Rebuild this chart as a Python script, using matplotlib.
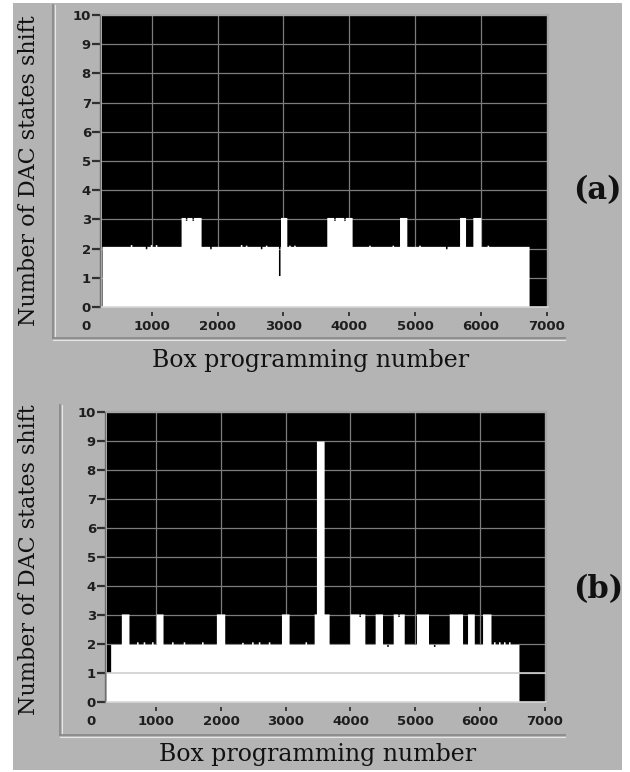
import numpy as np
import matplotlib
matplotlib.use('Agg')
import matplotlib.pyplot as plt
from matplotlib.patches import Rectangle
from matplotlib.lines import Line2D

# ---- panel (a) ----
a_range = (253, 6740)
a_base = 2.06
a_block_start = [1454, 2964, 3667, 4772, 5684, 5886]
a_block_end = [1758, 3060, 4052, 4883, 5775, 6008]
a_block_level = [3.05, 3.05, 3.05, 3.05, 3.05, 3.05]
a_blip_x = [694, 922, 998, 1074, 1530, 1631, 1900, 2366, 2442, 2670, 2746,
            2945, 3100, 3176, 3784, 3936, 4316, 4670, 5076, 5482, 6114]
a_blip_level = [2.12, 1.97, 2.12, 2.12, 2.95, 2.95, 1.97, 2.12, 2.1, 1.97, 2.1,
                1.06, 2.1, 2.1, 2.95, 2.95, 2.1, 2.1, 2.1, 1.97, 2.1]

# ---- panel (b) ----
b_lead = (236, 304, 1.0)
b_range = (304, 6610)
b_base = 1.97
b_block_start = [469, 1009, 1937, 2942, 3447, 3482, 3998, 4389, 4668, 5028,
                 5533, 5816, 6048]
b_block_end = [587, 1113, 2066, 3060, 3678, 3601, 4230, 4503, 4838, 5213,
               5739, 5920, 6178]
b_block_level = [3.02, 3.02, 3.02, 3.02, 3.02, 8.98, 3.02, 3.02, 3.02, 3.02,
                 3.02, 3.02, 3.02]
b_blip_x = [716, 819, 948, 1257, 1437, 1720, 2339, 2493, 2597, 2751, 3318,
            4150, 4580, 4750, 5301, 6229, 6306, 6383, 6461]
b_blip_level = [2.06, 2.06, 2.06, 2.06, 2.06, 2.06, 2.04, 2.06, 2.06, 2.06, 2.06,
                2.93, 1.9, 2.93, 1.9, 2.06, 2.06, 2.06, 2.06]

x_ticks = [1000, 2000, 3000, 4000, 5000, 6000, 7000]
y_ticks = list(range(0, 11))
xlabel = "Box programming number"
ylabel = "Number of DAC states shift"

BLIP_W = 24
W, H = 630, 772


def build_profile(x0, x1, base, starts, ends, levels, blips, blip_levels, lead=None):
    lo = lead[0] if lead else x0
    edges = np.arange(lo, x1 + 1)
    vals = np.full(len(edges) - 1, base, dtype=float)
    if lead:
        vals[edges[:-1] < lead[1]] = lead[2]
    for s, e, v in zip(starts, ends, levels):
        vals[(edges[:-1] >= s) & (edges[:-1] < e)] = v
    for c, v in zip(blips, blip_levels):
        vals[(edges[:-1] >= c - BLIP_W / 2) & (edges[:-1] < c + BLIP_W / 2)] = v
    return edges, vals


def px_rect(l, t, r, b):
    # pixel box -> figure fraction [left, bottom, width, height]
    return [l / W, 1 - b / H, (r - l) / W, (b - t) / H]


def style_axes(ax, xlim):
    ax.set_facecolor('black')
    ax.set_xlim(*xlim)
    ax.set_ylim(0, 10)
    ax.set_xticks(x_ticks)
    ax.set_yticks(y_ticks)
    ax.grid(True, color='#7c7c7c', lw=0.9)
    ax.set_axisbelow(True)
    for s in ['top', 'right']:
        ax.spines[s].set_color('#a6a6a6')
        ax.spines[s].set_linewidth(1.6)
    ax.spines['bottom'].set_position(('outward', 3.6))
    ax.spines['bottom'].set_visible(False)
    ax.spines['left'].set_position(('outward', 1.5))
    ax.spines['left'].set_color('#6e6e6e')
    ax.spines['left'].set_linewidth(1.0)
    ax.plot([0, 1], [0, 0], transform=ax.transAxes, color='#d8d8d8',
            lw=1.2, clip_on=False, zorder=5)
    ax.tick_params(axis='x', direction='out', length=3, width=1.3,
                   color='#303030', pad=3)
    ax.tick_params(axis='y', direction='out', length=5.5, width=1.6,
                   color='#303030', pad=1)
    for lab in ax.get_xticklabels() + ax.get_yticklabels():
        lab.set_fontsize(9.5)
        lab.set_fontweight('bold')
        lab.set_color('#1e1e1e')
    ax.text(0, -0.068, "0", transform=ax.get_xaxis_transform(), ha='center',
            va='center', fontsize=9.5, fontweight='bold', color='#1e1e1e',
            clip_on=False)


fig = plt.figure(figsize=(6.3, 7.72), dpi=100)
fig.patch.set_facecolor('white')
fig.patches.append(Rectangle((13 / W, 1 - 770 / H), 609 / W, 767 / H,
                             transform=fig.transFigure, facecolor='#b4b4b4',
                             edgecolor='none', zorder=-5))

# panel frames (sunken edge look)
for (xv, yt, yb, yh, xr) in [(53, 5, 338, 338, 565), (60, 405, 735, 735, 565)]:
    fig.add_artist(Line2D([xv / W, xv / W], [1 - yt / H, 1 - yb / H],
                          color='#8a8a8a', lw=1.3, zorder=-4))
    fig.add_artist(Line2D([(xv + 1.5) / W, (xv + 1.5) / W], [1 - yt / H, 1 - yb / H],
                          color='#e6e6e6', lw=0.8, zorder=-4))
    fig.add_artist(Line2D([xv / W, xr / W], [1 - yh / H, 1 - yh / H],
                          color='#8a8a8a', lw=1.3, zorder=-4))
    fig.add_artist(Line2D([xv / W, xr / W], [1 - (yh + 1.5) / H, 1 - (yh + 1.5) / H],
                          color='#e6e6e6', lw=0.8, zorder=-4))

# top panel
ax1 = fig.add_axes(px_rect(102, 15, 548, 307))
edges, vals = build_profile(a_range[0], a_range[1], a_base, a_block_start,
                            a_block_end, a_block_level, a_blip_x, a_blip_level)
ax1.stairs(vals, edges, baseline=0, fill=True, color='white', lw=0, zorder=3)
style_axes(ax1, (245, 7020))

# bottom panel
ax2 = fig.add_axes(px_rect(107, 412, 546, 702))
edges, vals = build_profile(b_range[0], b_range[1], b_base, b_block_start,
                            b_block_end, b_block_level, b_blip_x, b_blip_level,
                            lead=b_lead)
ax2.stairs(vals, edges, baseline=0, fill=True, color='white', lw=0, zorder=3)
ax2.axhline(1, color='#cfcfcf', lw=1.2, zorder=4)
style_axes(ax2, (240, 7020))

# axis titles
for yl in [171, 560]:
    fig.text(29 / W, 1 - yl / H, ylabel, rotation=90, ha='center', va='center',
             family='DejaVu Serif', fontsize=16, color='#111111')
fig.text(311 / W, 1 - 360 / H, xlabel, ha='center', va='center',
         family='DejaVu Serif', fontsize=17, color='#111111')
fig.text(318 / W, 1 - 755 / H, xlabel, ha='center', va='center',
         family='DejaVu Serif', fontsize=17, color='#111111')

# panel tags
fig.text(573 / W, 1 - 191 / H, "(a)", ha='left', va='center',
         family='DejaVu Serif', fontweight='bold', fontsize=22, color='#111111')
fig.text(573 / W, 1 - 590 / H, "(b)", ha='left', va='center',
         family='DejaVu Serif', fontweight='bold', fontsize=22, color='#111111')

# white outer border on the right clips the tags like the screenshot
fig.patches.append(Rectangle((622 / W, 0), 8 / W, 1, transform=fig.transFigure,
                             facecolor='white', edgecolor='none', zorder=10))

fig.savefig('out.png', dpi=100, facecolor=fig.get_facecolor())
